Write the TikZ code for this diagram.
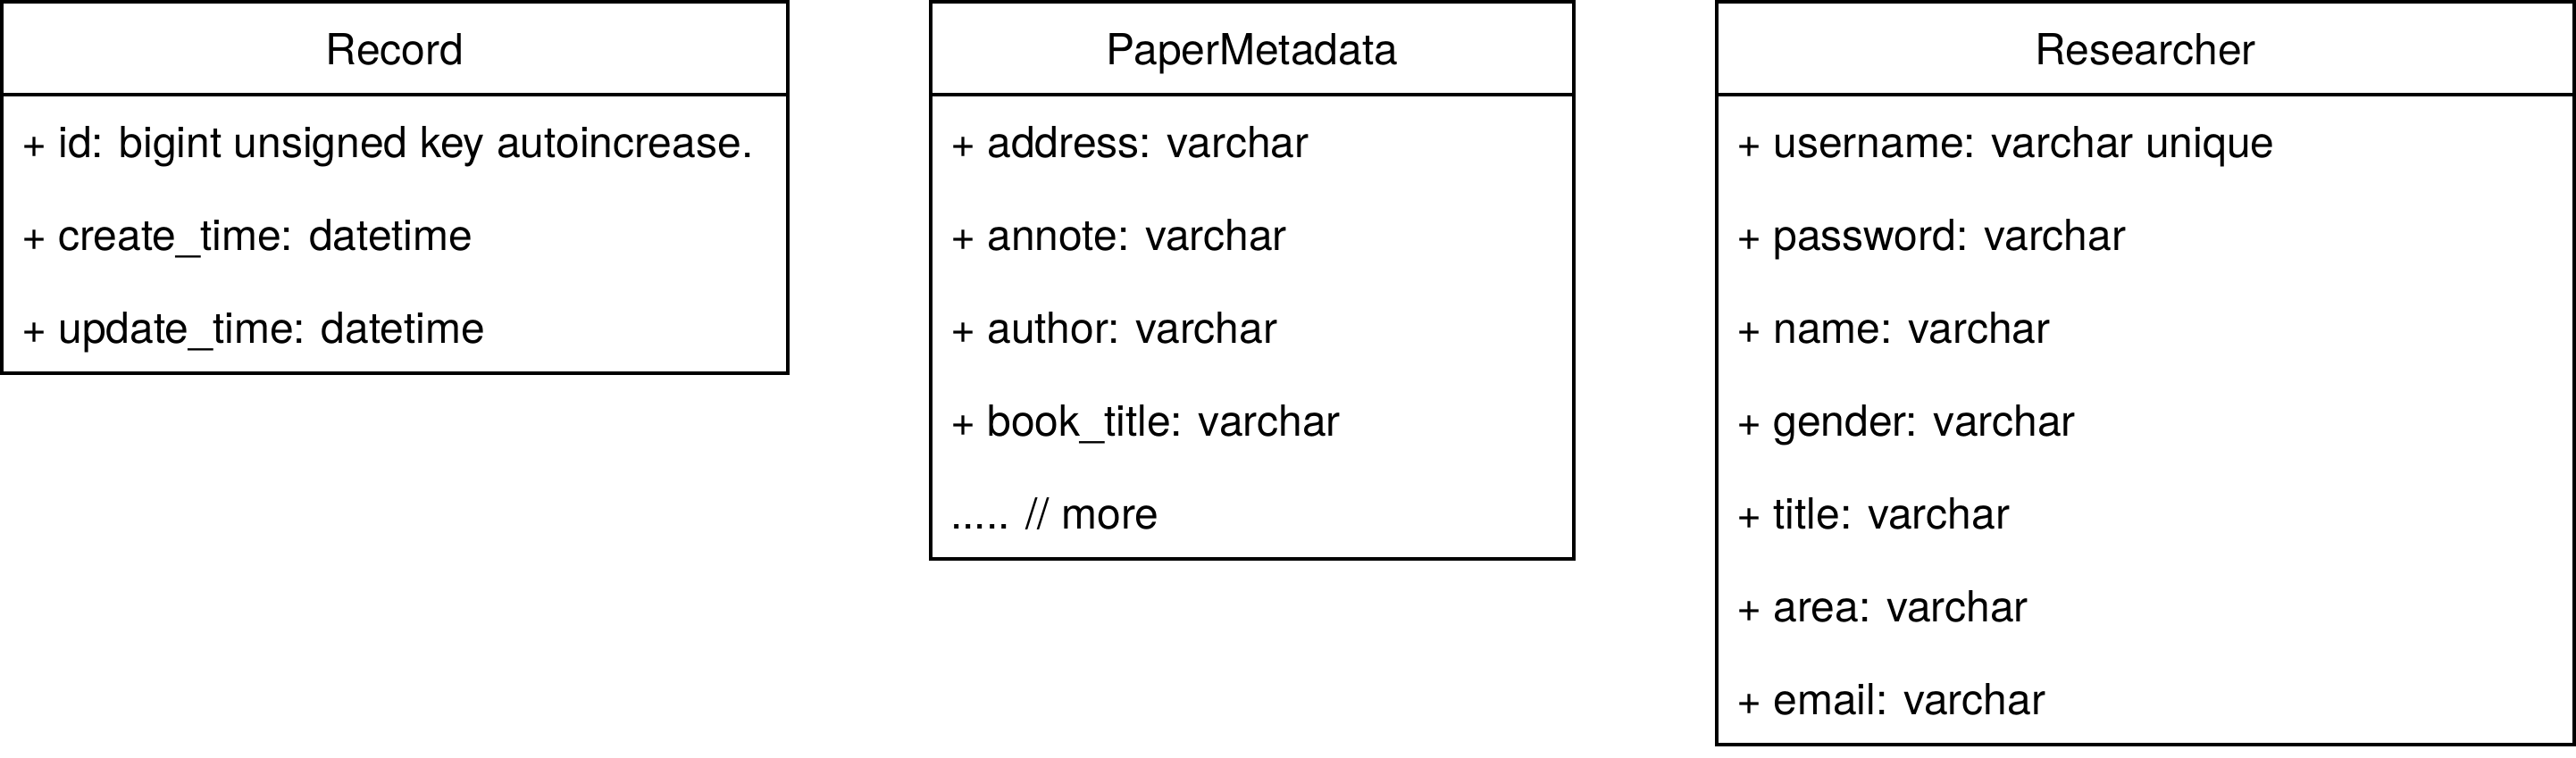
\documentclass[tikz,border=0pt]{standalone}
\usepackage{fontspec}
\setmainfont{TeX Gyre Heros}
\newcommand{\fsz}{\fontsize{12pt}{14.4pt}\selectfont}
\tikzset{
  clsbox/.style={draw=black, line width=1pt, inner sep=0pt, outer sep=0pt, anchor=north west, fill=white},
  hdrtext/.style={anchor=base, inner sep=0pt, outer sep=0pt, font=\fsz},
  attrtext/.style={anchor=base west, inner sep=0pt, outer sep=0pt, font=\fsz},
  sepline/.style={draw=black, line width=1pt}
}
\begin{document}
\begin{tikzpicture}[x=1pt,y=-1pt]
\useasboundingbox[fill=white] (-0.5,-0.5) rectangle (720.5,211.5);
% Record
\node[clsbox, minimum width=220pt, minimum height=104pt] (rec) at (0,0) {};
\draw[sepline] ([yshift=-26pt]rec.north west) -- ([yshift=-26pt]rec.north east);
\node[hdrtext] (rech) at (110,17.5) {Record};
\node[attrtext] (reca1) at (5.5,43.7) {+ id: bigint unsigned key autoincrease.};
\node[attrtext] (reca2) at (5.5,69.7) {+ create\_time: datetime};
\node[attrtext] (reca3) at (5.5,95.7) {+ update\_time: datetime};
% PaperMetadata
\node[clsbox, minimum width=180pt, minimum height=156pt] (pap) at (260,0) {};
\draw[sepline] ([yshift=-26pt]pap.north west) -- ([yshift=-26pt]pap.north east);
\node[hdrtext] (paph) at (350,17.5) {PaperMetadata};
\node[attrtext] (papa1) at (265.5,43.7) {+ address: varchar};
\node[attrtext] (papa2) at (265.5,69.7) {+ annote: varchar};
\node[attrtext] (papa3) at (265.5,95.7) {+ author: varchar};
\node[attrtext] (papa4) at (265.5,121.7) {+ book\_title: varchar};
\node[attrtext] (papa5) at (265.5,147.7) {..... // more};
% Researcher
\node[clsbox, minimum width=240pt, minimum height=208pt] (res) at (480,0) {};
\draw[sepline] ([yshift=-26pt]res.north west) -- ([yshift=-26pt]res.north east);
\node[hdrtext] (resh) at (600,17.5) {Researcher};
\node[attrtext] (resa1) at (485.5,43.7) {+ username: varchar unique};
\node[attrtext] (resa2) at (485.5,69.7) {+ password: varchar};
\node[attrtext] (resa3) at (485.5,95.7) {+ name: varchar};
\node[attrtext] (resa4) at (485.5,121.7) {+ gender: varchar};
\node[attrtext] (resa5) at (485.5,147.7) {+ title: varchar};
\node[attrtext] (resa6) at (485.5,173.7) {+ area: varchar};
\node[attrtext] (resa7) at (485.5,199.7) {+ email: varchar};
\end{tikzpicture}
\end{document}
